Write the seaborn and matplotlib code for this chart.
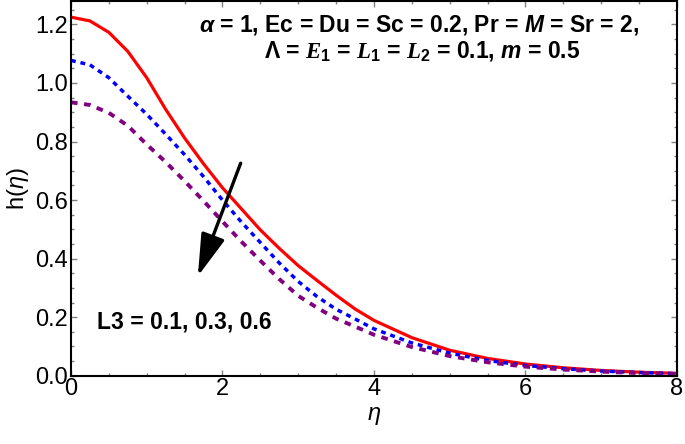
import matplotlib
matplotlib.use("Agg")
import matplotlib.pyplot as plt
import seaborn as sns
from matplotlib.ticker import MultipleLocator

# ── Données ───────────────────────────────────────────────────────────────────
eta = [0.0, 0.25, 0.5, 0.75, 1.0, 1.25, 1.5, 1.75, 2.0, 2.25, 2.5, 2.75, 3.0,
       3.25, 3.5, 3.75, 4.0, 4.5, 5.0, 5.5, 6.0, 6.5, 7.0, 7.5, 8.0]
h_l3_01 = [1.225, 1.212, 1.173, 1.108, 1.018, 0.910, 0.812, 0.724, 0.642, 0.570,
           0.498, 0.435, 0.376, 0.325, 0.275, 0.228, 0.189, 0.130,
           0.087, 0.059, 0.040, 0.027, 0.018, 0.012, 0.008]
h_l3_03 = [1.077, 1.062, 1.018, 0.955, 0.893, 0.825, 0.755, 0.680, 0.600, 0.525,
           0.455, 0.385, 0.322, 0.270, 0.227, 0.194, 0.160, 0.112,
           0.077, 0.052, 0.035, 0.024, 0.016, 0.011, 0.007]
h_l3_06 = [0.934, 0.925, 0.898, 0.854, 0.790, 0.730, 0.665, 0.597, 0.527, 0.458,
           0.393, 0.330, 0.273, 0.232, 0.195, 0.168, 0.140, 0.098,
           0.067, 0.046, 0.031, 0.021, 0.014, 0.009, 0.006]

x_ticks = [0, 2, 4, 6, 8]
y_ticks = [0.0, 0.2, 0.4, 0.6, 0.8, 1.0, 1.2]

# ── Style ─────────────────────────────────────────────────────────────────────
sns.set_theme(style="ticks")
plt.rcParams["font.family"] = ["Liberation Sans", "DejaVu Sans"]
plt.rcParams["text.color"] = "black"
plt.rcParams["axes.labelcolor"] = "black"
plt.rcParams["mathtext.fontset"] = "custom"
plt.rcParams["mathtext.rm"] = "Liberation Sans"
plt.rcParams["mathtext.it"] = "Liberation Sans:italic"
plt.rcParams["mathtext.bf"] = "Liberation Sans:bold"
plt.rcParams["mathtext.sf"] = "Liberation Sans:italic:bold"
plt.rcParams["mathtext.tt"] = "Liberation Serif:italic:bold"

fig = plt.figure(figsize=(6.85, 4.44), dpi=100)
fig.patch.set_facecolor("white")
ax = fig.add_axes([0.1036, 0.1538, 0.8847, 0.8439])

sns.lineplot(x=eta, y=h_l3_01, color="#ff0000", lw=2.3, ax=ax)
sns.lineplot(x=eta, y=h_l3_03, color="#0000ff", lw=2.5, ax=ax)
sns.lineplot(x=eta, y=h_l3_06, color="#800080", lw=2.8, ax=ax)

ax.lines[1].set_dashes((1.4, 1.4))
ax.lines[2].set_dashes((1.7, 1.7))
for line in ax.lines[1:]:
    line.set_dash_capstyle("butt")

ax.set_xlim(0, 8)
ax.set_ylim(0, 1.28)
ax.set_xticks(x_ticks)
ax.set_yticks(y_ticks)
ax.set_xticklabels([str(t) for t in x_ticks])
ax.set_yticklabels([f"{t:.1f}" for t in y_ticks])
ax.xaxis.set_minor_locator(MultipleLocator(0.5))
ax.yaxis.set_minor_locator(MultipleLocator(0.05))
ax.tick_params(which="both", direction="in", top=True, right=True,
               color="#808080", width=1.0, labelsize=17, labelcolor="black")
ax.tick_params(which="major", length=4, pad=2)
ax.tick_params(which="minor", length=2.5)

for spine in ax.spines.values():
    spine.set_color("black")
    spine.set_linewidth(1.5)

ax.set_xlabel(r"$\eta$", fontsize=17, labelpad=3)
ax.set_ylabel(r"h($\eta$)", fontsize=17, labelpad=3)

# ── Annotations ───────────────────────────────────────────────────────────────
ax.text(4.6, 1.197,
        r"$\mathsf{\alpha}$ = 1, Ec = Du = Sc = 0.2, Pr = $\mathsf{M}$ = Sr = 2,",
        ha="center", va="center", fontsize=16.5, fontweight="bold")
ax.text(4.63, 1.108,
        r"$\mathbf{\Lambda}$ = $\mathtt{E}_\mathbf{1}$ = $\mathtt{L}_\mathbf{1}$"
        r" = $\mathtt{L}_\mathbf{2}$ = 0.1, $\mathsf{m}$ = 0.5",
        ha="center", va="center", fontsize=16.5, fontweight="bold")
ax.text(0.343, 0.183, "L3 = 0.1, 0.3, 0.6",
        ha="left", va="center", fontsize=16.5, fontweight="bold")

ax.annotate(
    "", xy=(1.675, 0.34), xytext=(2.24, 0.726),
    arrowprops=dict(arrowstyle="-|>,head_length=1.3,head_width=0.375",
                    mutation_scale=20, lw=2.4, color="black",
                    shrinkA=0, shrinkB=0),
)

fig.savefig("out.png", dpi=100, facecolor="white")
plt.close(fig)
